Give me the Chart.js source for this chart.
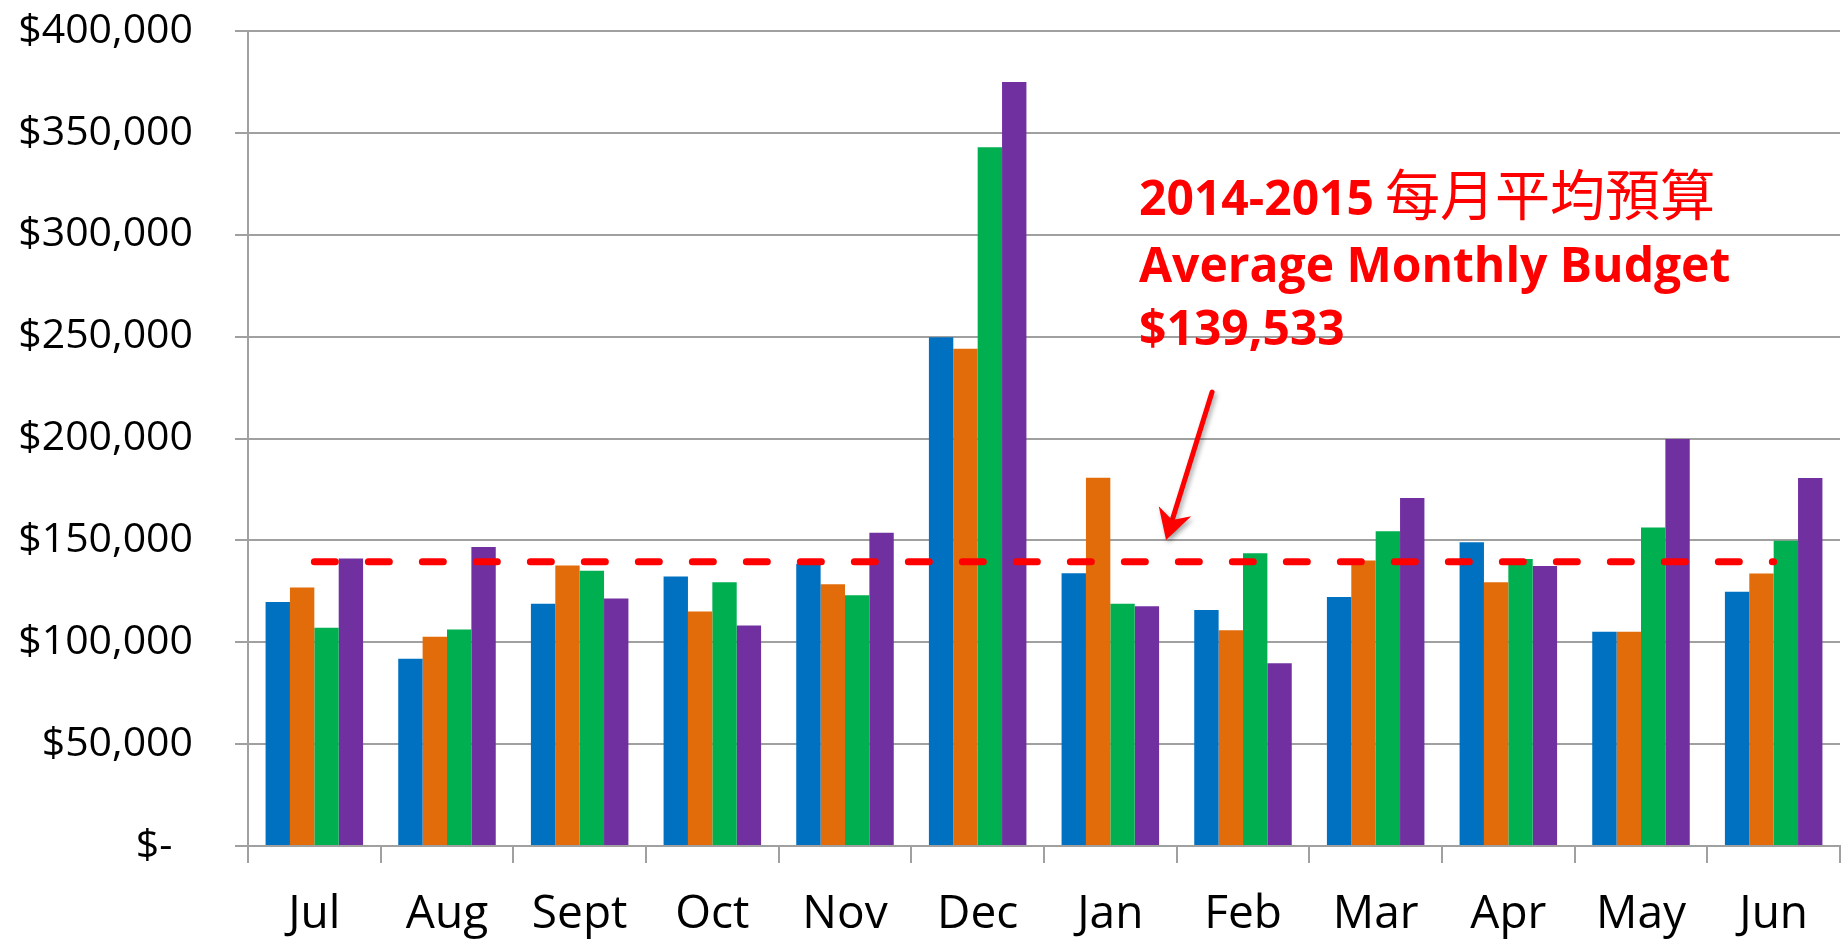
<!DOCTYPE html>
<html>
<head>
<meta charset="utf-8">
<script src="https://cdn.jsdelivr.net/npm/chart.js@4.4.1/dist/chart.umd.min.js"></script>
<style>
  html, body { margin: 0; padding: 0; background: #fff; }
  #wrap { width: 1845px; height: 939px; }
</style>
</head>
<body>
<div id="wrap"><canvas id="budgetChart"></canvas></div>
<script>
const months = ["Jul", "Aug", "Sept", "Oct", "Nov", "Dec", "Jan", "Feb", "Mar", "Apr", "May", "Jun"];
const blueVals = [119700, 91900, 118900, 132300, 138500, 249700, 133900, 115800, 122200, 149100, 105100, 124800];
const orangeVals = [126900, 102700, 137700, 115100, 128500, 244000, 180700, 105900, 140100, 129400, 105100, 133800];
const greenVals = [107100, 106300, 135100, 129500, 123100, 343000, 118900, 143700, 154500, 140900, 156300, 149800];
const purpleVals = [141100, 146700, 121500, 108200, 153800, 375000, 117700, 89700, 170800, 137400, 199700, 180600];
const budgetLine = [139533, 139533, 139533, 139533, 139533, 139533, 139533, 139533, 139533, 139533, 139533, 139533];
const yTickLabels = ["$-\u2002", "$50,000", "$100,000", "$150,000", "$200,000", "$250,000", "$300,000", "$350,000", "$400,000"];
const noteLines = ["2014-2015", "每月平均預算", "Average Monthly Budget", "$139,533"];

const gridGray = "#a0a0a0";

// red annotation + arrow, placed against the scales
const budgetNote = {
  id: "budgetNote",
  afterDatasetsDraw(chart) {
    const { ctx, scales: { x, y } } = chart;
    const catW = x.getPixelForValue(1) - x.getPixelForValue(0);
    const left = x.getPixelForValue(6) + 0.216 * catW;
    ctx.save();
    ctx.fillStyle = "#ff0000";
    ctx.textAlign = "left";
    ctx.textBaseline = "alphabetic";
    ctx.font = "bold 48px 'Open Sans'";
    ctx.fillText(noteLines[0], left, y.getPixelForValue(309700));
    const w = ctx.measureText(noteLines[0]).width;
    ctx.font = "55px 'Noto Sans CJK TC'";
    ctx.fillText(noteLines[1], left + w + 11, y.getPixelForValue(309700));
    ctx.font = "bold 48px 'Open Sans'";
    ctx.fillText(noteLines[2], left, y.getPixelForValue(276800));
    ctx.fillText(noteLines[3], left, y.getPixelForValue(245900));

    // arrow
    const x1 = x.getPixelForValue(6) + 0.767 * catW, y1 = y.getPixelForValue(222800);
    const x2 = x.getPixelForValue(6) + 0.42 * catW, y2 = y.getPixelForValue(150200);
    const ang = Math.atan2(y2 - y1, x2 - x1);
    ctx.shadowColor = "rgba(0,0,0,0.35)";
    ctx.shadowBlur = 5;
    ctx.shadowOffsetX = 2;
    ctx.shadowOffsetY = 3;
    ctx.strokeStyle = "#ff0000";
    ctx.lineWidth = 5;
    ctx.lineCap = "round";
    ctx.beginPath();
    ctx.moveTo(x1, y1);
    ctx.lineTo(x2 - 14 * Math.cos(ang), y2 - 14 * Math.sin(ang));
    ctx.stroke();
    ctx.translate(x2, y2);
    ctx.rotate(ang);
    ctx.beginPath();
    ctx.moveTo(0, 0);
    ctx.lineTo(-30, -17);
    ctx.lineTo(-21, 0);
    ctx.lineTo(-30, 17);
    ctx.closePath();
    ctx.fill();
    ctx.restore();
  }
};

const barSet = (data, color) => ({
  type: "bar",
  data: data,
  backgroundColor: color,
  borderWidth: 0,
  barPercentage: 1,
  categoryPercentage: 0.735,
  order: 1,
});

new Chart(document.getElementById("budgetChart"), {
  data: {
    labels: months,
    datasets: [
      barSet(blueVals, "#0070c0"),
      barSet(orangeVals, "#e36c0a"),
      barSet(greenVals, "#00b050"),
      barSet(purpleVals, "#7030a0"),
      {
        type: "line",
        data: budgetLine,
        borderColor: "#ff0000",
        borderWidth: 7,
        borderDash: [21, 33],
        borderCapStyle: "round",
        pointRadius: 0,
        fill: false,
        order: 0,
      },
    ],
  },
  options: {
    responsive: true,
    maintainAspectRatio: false,
    animation: false,
    layout: { padding: { top: 31, right: 5, left: 0, bottom: 0 } },
    plugins: { legend: { display: false }, tooltip: { enabled: false } },
    scales: {
      x: {
        offset: true,
        grid: { offset: true, drawOnChartArea: false, color: gridGray, lineWidth: 2, tickLength: 17 },
        border: { color: gridGray, width: 2 },
        ticks: { color: "#000", font: { family: "'Open Sans'", size: 46 }, padding: 24, maxRotation: 0 },
        afterFit: (s) => { s.height = 93; s.paddingLeft = 0; s.paddingRight = 0; },
      },
      y: {
        min: 0,
        max: 400000,
        grid: { color: gridGray, lineWidth: 2, tickLength: 13 },
        border: { color: gridGray, width: 2 },
        ticks: {
          stepSize: 50000,
          color: "#000",
          font: { family: "'Open Sans'", size: 41 },
          padding: 42,
          callback: (v, i) => yTickLabels[i],
        },
        afterFit: (s) => { s.width = 248; s.paddingTop = 0; s.paddingBottom = 0; },
      },
    },
  },
  plugins: [budgetNote],
});
</script>
</body>
</html>
